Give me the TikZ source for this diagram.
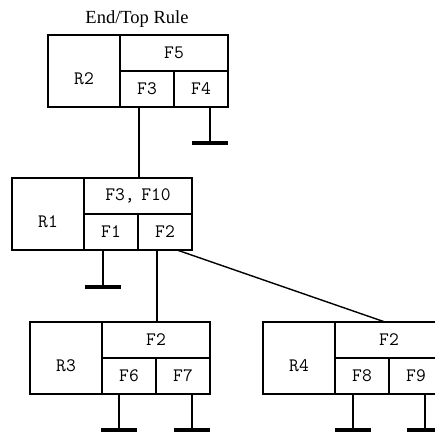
\documentclass[tikz,border=0pt]{standalone}
\usepackage{fontspec}
\setmainfont{Liberation Serif}
\usetikzlibrary{calc}

\begin{document}
\begin{tikzpicture}[x=1pt, y=-1pt,
    cell/.style={draw, line width=1.4pt, outer sep=0pt, inner sep=0pt,
                 minimum width=54, minimum height=36, anchor=north west,
                 font=\ttfamily\fontsize{19}{19}\selectfont},
    rcell/.style={cell, minimum width=72, minimum height=72, text height=27pt},
    wide/.style={cell, minimum width=108},
    stem/.style={line width=1.4pt},
    ground/.style={line width=3.5pt}]
          \useasboundingbox (0,0) rectangle (435,433);

          % top rule
          \node[font=\fontsize{18.5}{18.5}\selectfont] (title) at (137,19) {End/Top Rule};
          \node[rcell] (R2) at (48,35) {R2};
          \node[wide] (R2top) at (R2.north east) {F5};
          \node[cell] (R2F3) at (R2top.south west) {F3};
          \node[cell] (R2F4) at (R2F3.north east) {F4};

          % middle rule
          \node[rcell] (R1) at (12,178) {R1};
          \node[wide] (R1top) at (R1.north east) {F3,\hspace{-3pt} F10};
          \node[cell] (R1F1) at (R1top.south west) {F1};
          \node[cell] (R1F2) at (R1F1.north east) {F2};

          % lower rules
          \node[rcell] (R3) at (30,322) {R3};
          \node[wide] (R3top) at (R3.north east) {F2};
          \node[cell] (R3F6) at (R3top.south west) {F6};
          \node[cell] (R3F7) at (R3F6.north east) {F7};

          \node[rcell] (R4) at (263,322) {R4};
          \node[wide] (R4top) at (R4.north east) {F2};
          \node[cell] (R4F8) at (R4top.south west) {F8};
          \node[cell] (R4F9) at (R4F8.north east) {F9};

          % links between rules
          \draw[stem] ([xshift=19]R2F3.south west) coordinate (a) -- (a |- R1top.north);
          \draw[stem] ([xshift=19]R1F2.south west) coordinate (b) -- (b |- R3top.north);
          \draw[stem] ([xshift=39]R1F2.south west) -- ([xshift=-4]R4top.north);

          % grounded fields
          \draw[stem] ([xshift=36]R2F4.south west) -- ++(0,36) coordinate (g4);
          \draw[ground] ([xshift=-18]g4) -- ([xshift=18]g4);
          \draw[stem] ([xshift=19]R1F1.south west) -- ++(0,37) coordinate (g1);
          \draw[ground] ([xshift=-18]g1) -- ([xshift=18]g1);
          \draw[stem] ([xshift=17]R3F6.south west) -- ++(0,36) coordinate (g6);
          \draw[ground] ([xshift=-18]g6) -- ([xshift=18]g6);
          \draw[stem] ([xshift=36]R3F7.south west) -- ++(0,36) coordinate (g7);
          \draw[ground] ([xshift=-18]g7) -- ([xshift=18]g7);
          \draw[stem] ([xshift=18]R4F8.south west) -- ++(0,36) coordinate (g8);
          \draw[ground] ([xshift=-18]g8) -- ([xshift=18]g8);
          \draw[stem] ([xshift=36]R4F9.south west) -- ++(0,36) coordinate (g9);
          \draw[ground] ([xshift=-18]g9) -- ([xshift=18]g9);

        \end{tikzpicture}
\end{document}
